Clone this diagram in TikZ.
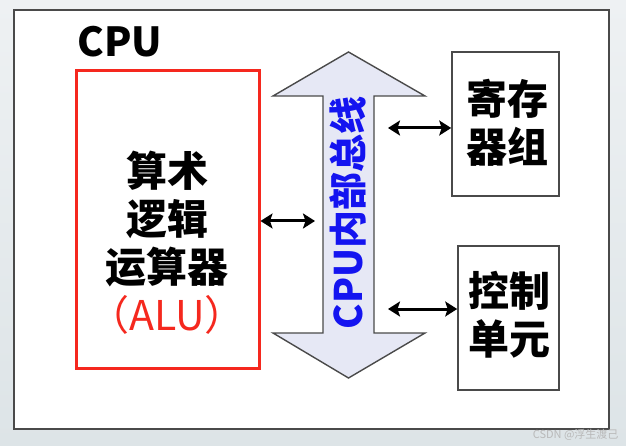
\documentclass[tikz,border=0pt]{standalone}
\usepackage{fontspec}
\newfontfamily\cjk{Noto Sans CJK SC}
\usetikzlibrary{arrows.meta}
\definecolor{bgtop}{HTML}{EEF1F3}
\definecolor{bgbot}{HTML}{DDE4E7}
\definecolor{frame}{HTML}{4A4A4A}
\definecolor{alured}{HTML}{F5281E}
\definecolor{busfill}{HTML}{E6E8F5}
\definecolor{busblue}{HTML}{1414F0}
\tikzset{
  unitbox/.style={draw=frame, line width=1.6pt, fill=white, inner sep=0pt},
  bigtext/.style={font=\cjk\bfseries\fontsize{41}{48}\selectfont, align=center, text=black},
  link/.style={line width=3pt, {Stealth[length=12pt,width=15pt,inset=2.5pt]}-{Stealth[length=12pt,width=15pt,inset=2.5pt]}},
}
\begin{document}
\begin{tikzpicture}[x=1pt,y=-1pt]
\useasboundingbox (0,0) rectangle (626,446);
\shade[top color=bgtop, bottom color=bgbot] (0,0) rectangle (626,446);
% outer CPU frame
\node[draw=frame, line width=2.2pt, fill=white, minimum width=595pt, minimum height=419pt, inner sep=0pt] (cpu) at (311.5,219.5) {};
\node[font=\cjk\bfseries\fontsize{40}{44}\selectfont, anchor=center] (cputitle) at (120,42) {CPU};
% ALU
\node[draw=alured, line width=3pt, fill=white, minimum width=183pt, minimum height=297pt, inner sep=0pt] (alu) at (167.5,219.5) {};
\node[bigtext] (alutext) at (167,243) {算术\\逻辑\\运算器\\{\mdseries\color{alured}（ALU）}};
% registers and control unit
\node[unitbox, minimum width=107pt, minimum height=144pt] (reg) at (505.5,124) {};
\node[bigtext] (regtext) at (507,123) {寄存\\器组};
\node[unitbox, minimum width=101pt, minimum height=144pt] (ctl) at (508.5,318) {};
\node[bigtext] (ctltext) at (509,315) {控制\\单元};
% internal bus (double arrow)
\draw[draw=frame, line width=1.4pt, fill=busfill, line join=miter]
  (348.5,52) -- (425,96) -- (374,96) -- (374,333) -- (425,333) -- (348.5,378)
  -- (273,333) -- (323,333) -- (323,96) -- (273,96) -- cycle;
\node[rotate=90, font=\cjk\bfseries\fontsize{38}{40}\selectfont, text=busblue] (bus) at (348,213) {CPU内部总线};
\coordinate (busA) at (315,221);
\coordinate (busR) at (388,128);
\coordinate (busC) at (388,309);
% connectors
\draw[link] (busA -| alu.east) -- (busA);
\draw[link] (busR) -- (busR -| reg.west);
\draw[link] (busC) -- (busC -| ctl.west);
% watermark
\node[font=\cjk\fontsize{11}{12}\selectfont, text=gray!55, anchor=east] (wm) at (622,435) {CSDN @浮生渡己};
\end{tikzpicture}
\end{document}
